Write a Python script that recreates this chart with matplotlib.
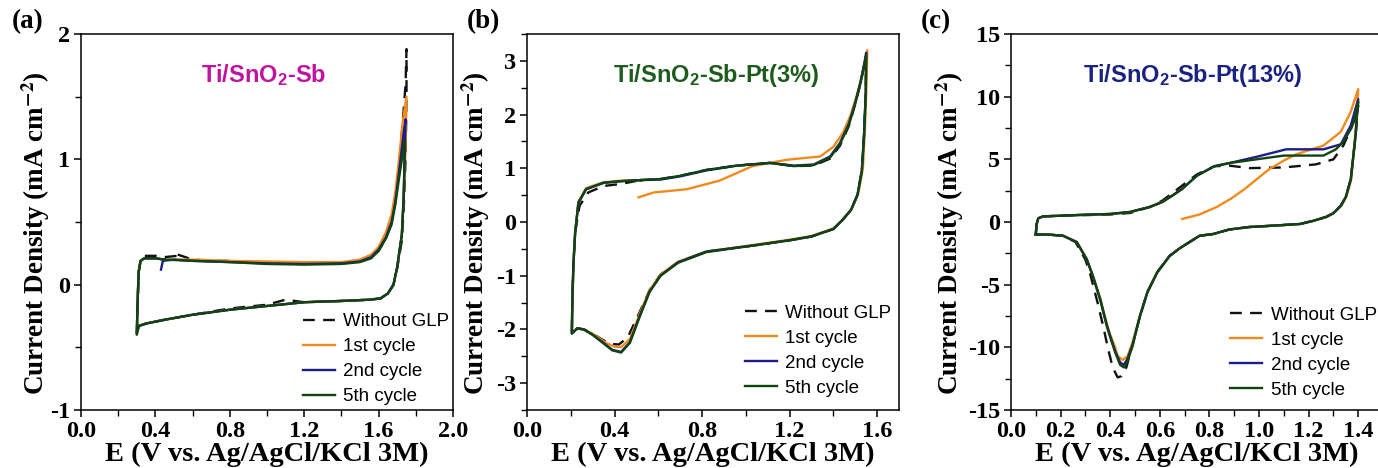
import matplotlib
matplotlib.use("Agg")
import matplotlib.pyplot as plt
from matplotlib.ticker import MultipleLocator, FuncFormatter

plt.rcParams['axes.unicode_minus'] = False
plt.rcParams['mathtext.fontset'] = 'custom'
plt.rcParams['mathtext.rm'] = 'Liberation Sans:bold'
plt.rcParams['mathtext.bf'] = 'Liberation Sans:bold'
plt.rcParams['mathtext.it'] = 'Liberation Sans:bold'

# ---------------- data ----------------
series_labels = ["Without GLP", "1st cycle", "2nd cycle", "5th cycle"]
series_colors = ["#111111", "#f08a1c", "#1c1c8a", "#114411"]

panel_titles = [r"Ti/SnO$_2$-Sb", r"Ti/SnO$_2$-Sb-Pt(3%)", r"Ti/SnO$_2$-Sb-Pt(13%)"]
title_colors = ["#c0149e", "#1e5c1e", "#1a2380"]
panel_tags = ["(a)", "(b)", "(c)"]

# Panel (a): Ti/SnO2-Sb
a_E_dash = [0.52, 0.6, 0.7, 0.8, 1.0, 1.1, 1.2, 1.4, 1.5, 1.56, 1.60, 1.64, 1.67, 1.69, 1.71, 1.73, 1.745, 1.75,
            1.75, 1.745, 1.735, 1.725, 1.70, 1.68, 1.65, 1.61, 1.55, 1.4, 1.2, 1.1, 1.0, 0.8, 0.6, 0.45, 0.35, 0.31, 0.30,
            0.305, 0.31, 0.32, 0.34, 0.40, 0.45, 0.52]
a_j_dash = [0.24, 0.2, 0.19, 0.19, 0.17, 0.175, 0.17, 0.17, 0.19, 0.22, 0.27, 0.37, 0.5, 0.68, 0.95, 1.3, 1.6, 1.88,
            1.5, 1.0, 0.6, 0.35, 0.13, 0.0, -0.07, -0.11, -0.12, -0.13, -0.14, -0.12, -0.16, -0.19, -0.24, -0.28, -0.31, -0.33, -0.41,
            -0.15, 0.1, 0.19, 0.23, 0.23, 0.22, 0.23]
a_E_1st = [0.45, 0.6, 0.8, 1.0, 1.2, 1.4, 1.5, 1.56, 1.60, 1.64, 1.67, 1.69, 1.71, 1.73, 1.75,
           1.745, 1.735, 1.725, 1.70, 1.68, 1.65, 1.61, 1.55, 1.4, 1.2, 1.0, 0.8, 0.6, 0.45, 0.35, 0.31, 0.30,
           0.305, 0.31, 0.32, 0.34, 0.40, 0.45]
a_j_1st = [0.2, 0.2, 0.19, 0.185, 0.18, 0.18, 0.2, 0.24, 0.30, 0.42, 0.56, 0.74, 1.0, 1.3, 1.5,
           1.1, 0.7, 0.4, 0.14, 0.0, -0.07, -0.11, -0.12, -0.13, -0.14, -0.17, -0.2, -0.24, -0.28, -0.31, -0.33, -0.38,
           -0.1, 0.1, 0.19, 0.21, 0.21, 0.2]
a_E_2nd = [0.43, 0.44, 0.5, 0.6, 0.8, 1.0, 1.2, 1.4, 1.5, 1.56, 1.60, 1.64, 1.67, 1.69, 1.71, 1.73, 1.745,
           1.74, 1.735, 1.725, 1.70, 1.68, 1.65, 1.61, 1.55, 1.4, 1.2, 1.0, 0.8, 0.6, 0.45, 0.35, 0.31, 0.30,
           0.305, 0.31, 0.32, 0.34, 0.40, 0.45]
a_j_2nd = [0.12, 0.19, 0.2, 0.19, 0.18, 0.17, 0.165, 0.17, 0.185, 0.22, 0.28, 0.38, 0.5, 0.66, 0.9, 1.15, 1.32,
           1.0, 0.7, 0.4, 0.14, 0.0, -0.07, -0.11, -0.12, -0.13, -0.14, -0.17, -0.2, -0.24, -0.28, -0.31, -0.33, -0.38,
           -0.1, 0.1, 0.19, 0.21, 0.21, 0.2]
a_E_5th = [0.45, 0.6, 0.8, 1.0, 1.2, 1.4, 1.5, 1.56, 1.60, 1.64, 1.67, 1.69, 1.71, 1.73, 1.74,
           1.738, 1.733, 1.725, 1.70, 1.68, 1.65, 1.61, 1.55, 1.4, 1.2, 1.0, 0.8, 0.6, 0.45, 0.35, 0.31, 0.30,
           0.305, 0.31, 0.32, 0.34, 0.40, 0.45]
a_j_5th = [0.2, 0.19, 0.18, 0.165, 0.16, 0.165, 0.18, 0.21, 0.27, 0.37, 0.48, 0.64, 0.85, 1.05, 1.15,
           0.9, 0.65, 0.4, 0.14, 0.0, -0.07, -0.11, -0.12, -0.13, -0.14, -0.17, -0.2, -0.24, -0.28, -0.31, -0.33, -0.4,
           -0.1, 0.1, 0.19, 0.21, 0.21, 0.2]

# Panel (b): Ti/SnO2-Sb-Pt(3%)
b_E_dash = [0.52, 0.61, 0.7, 0.82, 0.96, 1.11, 1.22, 1.31, 1.385, 1.43, 1.47, 1.50, 1.525, 1.54, 1.55,
            1.548, 1.54, 1.53, 1.51, 1.48, 1.44, 1.40, 1.3, 1.2, 1.03, 0.82, 0.69, 0.61, 0.56, 0.51, 0.46, 0.42, 0.38,
            0.34, 0.30, 0.26, 0.23, 0.205,
            0.207, 0.212, 0.22, 0.24, 0.28, 0.35, 0.43, 0.52]
b_j_dash = [0.78, 0.8, 0.86, 0.97, 1.05, 1.1, 1.04, 1.05, 1.18, 1.42, 1.78, 2.2, 2.6, 2.9, 3.1,
            2.4, 1.6, 0.95, 0.5, 0.22, 0.03, -0.13, -0.27, -0.34, -0.44, -0.55, -0.75, -0.98, -1.27, -1.72, -2.15, -2.28, -2.27,
            -2.18, -2.08, -2.0, -1.98, -2.07,
            -1.5, -0.8, -0.2, 0.3, 0.55, 0.67, 0.71, 0.78]
b_E_1st = [0.51, 0.58, 0.73, 0.88, 1.03, 1.19, 1.34, 1.40, 1.445, 1.48, 1.51, 1.535, 1.555,
           1.552, 1.545, 1.535, 1.515, 1.485, 1.445, 1.40, 1.3, 1.2, 1.03, 0.82, 0.69, 0.61, 0.56, 0.516, 0.47, 0.43,
           0.40, 0.36, 0.30, 0.26, 0.23, 0.205,
           0.207, 0.212, 0.22, 0.235, 0.27, 0.35, 0.43, 0.52]
b_j_1st = [0.46, 0.55, 0.61, 0.77, 1.04, 1.16, 1.22, 1.4, 1.67, 2.0, 2.4, 2.8, 3.2,
           2.6, 1.8, 1.0, 0.55, 0.25, 0.05, -0.12, -0.26, -0.33, -0.43, -0.55, -0.74, -0.98, -1.27, -1.7, -2.18, -2.33,
           -2.32, -2.25, -2.08, -2.0, -1.98, -2.07,
           -1.5, -0.8, -0.2, 0.38, 0.63, 0.74, 0.77, 0.78]
b_E_2nd = [0.52, 0.61, 0.7, 0.82, 0.96, 1.11, 1.22, 1.31, 1.385, 1.43, 1.47, 1.50, 1.525, 1.54, 1.55,
           1.548, 1.54, 1.53, 1.51, 1.48, 1.44, 1.40, 1.3, 1.2, 1.03, 0.82, 0.69, 0.61, 0.56, 0.516, 0.47, 0.43, 0.39,
           0.34, 0.30, 0.26, 0.23, 0.205,
           0.207, 0.212, 0.22, 0.235, 0.27, 0.35, 0.43, 0.52]
b_j_2nd = [0.78, 0.79, 0.85, 0.96, 1.05, 1.1, 1.05, 1.07, 1.22, 1.47, 1.82, 2.22, 2.62, 2.92, 3.15,
           2.4, 1.6, 0.95, 0.5, 0.22, 0.03, -0.13, -0.27, -0.34, -0.44, -0.55, -0.75, -1.0, -1.3, -1.74, -2.24, -2.42, -2.38,
           -2.22, -2.1, -2.0, -1.98, -2.08,
           -1.5, -0.8, -0.2, 0.36, 0.61, 0.73, 0.76, 0.78]
b_E_5th = [0.52, 0.61, 0.7, 0.82, 0.96, 1.11, 1.22, 1.31, 1.385, 1.43, 1.47, 1.50, 1.525, 1.54, 1.55,
           1.548, 1.54, 1.53, 1.51, 1.48, 1.44, 1.40, 1.3, 1.2, 1.03, 0.82, 0.69, 0.61, 0.56, 0.516, 0.47, 0.43, 0.39,
           0.34, 0.30, 0.26, 0.23, 0.205,
           0.207, 0.212, 0.22, 0.235, 0.27, 0.35, 0.43, 0.52]
b_j_5th = [0.78, 0.8, 0.86, 0.97, 1.05, 1.1, 1.04, 1.06, 1.2, 1.45, 1.8, 2.2, 2.6, 2.9, 3.1,
           2.4, 1.6, 0.95, 0.5, 0.22, 0.03, -0.13, -0.27, -0.34, -0.44, -0.56, -0.76, -1.0, -1.3, -1.75, -2.25, -2.43, -2.39,
           -2.23, -2.1, -2.0, -1.98, -2.07,
           -1.5, -0.8, -0.2, 0.36, 0.61, 0.73, 0.76, 0.78]

# Panel (c): Ti/SnO2-Sb-Pt(13%)
c_E_dash = [0.10, 0.103, 0.11, 0.13, 0.2, 0.3, 0.4, 0.48, 0.56, 0.61, 0.65, 0.69, 0.75, 0.82, 0.88, 0.96, 1.10, 1.23,
            1.30, 1.34, 1.37, 1.39, 1.40,
            1.395, 1.39, 1.37, 1.35, 1.33, 1.30, 1.27, 1.22, 1.165, 1.05, 0.96, 0.88, 0.815, 0.76, 0.72, 0.68, 0.64, 0.59,
            0.55, 0.52, 0.49, 0.465, 0.445, 0.43, 0.41, 0.39, 0.375, 0.35, 0.32, 0.30, 0.26, 0.21, 0.15, 0.10]
c_j_dash = [-1.0, -0.2, 0.3, 0.45, 0.5, 0.55, 0.6, 0.72, 1.2, 1.7, 2.3, 2.9, 3.8, 4.45, 4.5, 4.3, 4.35, 4.6,
            5.0, 6.1, 7.4, 8.4, 9.3,
            8.5, 7.0, 3.4, 2.0, 1.3, 0.7, 0.4, 0.1, -0.16, -0.3, -0.4, -0.6, -0.96, -1.1, -1.6, -2.1, -2.7, -4.0,
            -5.6, -7.5, -9.8, -11.6, -12.3, -12.4, -11.6, -10.0, -8.6, -6.5, -4.2, -3.0, -1.6, -1.1, -1.0, -1.0]
c_E_1st = [0.69, 0.76, 0.83, 0.89, 0.94, 0.99, 1.04, 1.10, 1.15, 1.26, 1.33, 1.37, 1.40,
           1.398, 1.39, 1.372, 1.352, 1.332, 1.30, 1.27, 1.22, 1.165, 1.05, 0.96, 0.88, 0.815, 0.76, 0.72, 0.68, 0.64, 0.59,
           0.55, 0.52, 0.49, 0.47, 0.45, 0.43, 0.42, 0.40, 0.386, 0.36, 0.33, 0.305, 0.265, 0.21, 0.15, 0.10,
           0.103, 0.11, 0.13, 0.2, 0.3, 0.4, 0.48, 0.56, 0.61, 0.65, 0.69]
c_j_1st = [0.24, 0.6, 1.2, 1.9, 2.6, 3.4, 4.2, 4.9, 5.4, 6.1, 7.2, 8.8, 10.6,
           9.5, 7.4, 3.4, 2.0, 1.3, 0.7, 0.4, 0.1, -0.16, -0.3, -0.4, -0.6, -0.96, -1.1, -1.6, -2.1, -2.7, -4.0,
           -5.6, -7.5, -9.6, -10.7, -11.0, -10.7, -10.0, -9.0, -8.1, -6.1, -4.3, -2.96, -1.6, -1.1, -1.0, -1.0,
           -0.2, 0.3, 0.45, 0.5, 0.58, 0.64, 0.8, 1.2, 1.6, 2.1, 2.64]
c_E_2nd = [0.10, 0.103, 0.11, 0.13, 0.2, 0.3, 0.4, 0.48, 0.56, 0.61, 0.65, 0.69, 0.75, 0.82, 0.88, 0.99, 1.11, 1.26,
           1.33, 1.37, 1.40,
           1.395, 1.39, 1.37, 1.35, 1.33, 1.30, 1.27, 1.22, 1.165, 1.05, 0.96, 0.88, 0.815, 0.76, 0.72, 0.68, 0.64, 0.59,
           0.55, 0.52, 0.49, 0.47, 0.455, 0.44, 0.42, 0.40, 0.386, 0.36, 0.33, 0.305, 0.265, 0.21, 0.15, 0.10]
c_j_2nd = [-1.0, -0.2, 0.3, 0.45, 0.5, 0.58, 0.64, 0.8, 1.2, 1.6, 2.1, 2.64, 3.7, 4.45, 4.7, 5.2, 5.8, 5.8,
           6.2, 7.7, 9.8,
           8.5, 7.0, 3.4, 2.0, 1.3, 0.7, 0.4, 0.1, -0.16, -0.3, -0.4, -0.6, -0.96, -1.1, -1.6, -2.1, -2.7, -4.0,
           -5.6, -7.5, -9.8, -10.9, -11.4, -11.2, -10.3, -9.1, -8.2, -6.2, -4.3, -2.96, -1.6, -1.1, -1.0, -1.0]
c_E_5th = [0.10, 0.103, 0.11, 0.13, 0.2, 0.3, 0.4, 0.48, 0.56, 0.61, 0.65, 0.69, 0.75, 0.82, 0.88, 0.99, 1.10, 1.18,
           1.26, 1.31, 1.34, 1.37, 1.39, 1.40,
           1.395, 1.39, 1.37, 1.35, 1.33, 1.30, 1.27, 1.22, 1.165, 1.05, 0.96, 0.88, 0.815, 0.76, 0.72, 0.68, 0.64, 0.59,
           0.55, 0.52, 0.49, 0.47, 0.455, 0.44, 0.42, 0.40, 0.386, 0.36, 0.33, 0.305, 0.265, 0.21, 0.15, 0.10]
c_j_5th = [-1.0, -0.2, 0.3, 0.45, 0.5, 0.58, 0.64, 0.8, 1.2, 1.6, 2.1, 2.64, 3.7, 4.45, 4.7, 5.0, 5.3, 5.3,
           5.3, 5.8, 6.4, 7.4, 8.5, 9.6,
           8.5, 7.0, 3.4, 2.0, 1.3, 0.7, 0.4, 0.1, -0.16, -0.3, -0.4, -0.6, -0.96, -1.1, -1.6, -2.1, -2.7, -4.0,
           -5.6, -7.5, -9.9, -11.1, -11.6, -11.4, -10.4, -9.2, -8.3, -6.2, -4.3, -2.96, -1.6, -1.1, -1.0, -1.0]

# axis settings per panel
xlims = [(0.0, 2.0), (0.0, 1.7), (0.0, 1.5)]
ylims = [(-1, 2), (-3.5, 3.5), (-15, 15)]
x_major = [0.4, 0.4, 0.2]
x_minor = [0.2, 0.2, 0.1]
y_major = [1, 1, 5]
y_minor = [0.5, 0.5, 2.5]

panels = [
    [(a_E_dash, a_j_dash), (a_E_1st, a_j_1st), (a_E_2nd, a_j_2nd), (a_E_5th, a_j_5th)],
    [(b_E_dash, b_j_dash), (b_E_1st, b_j_1st), (b_E_2nd, b_j_2nd), (b_E_5th, b_j_5th)],
    [(c_E_dash, c_j_dash), (c_E_1st, c_j_1st), (c_E_2nd, c_j_2nd), (c_E_5th, c_j_5th)],
]

# ---------------- layout ----------------
W, H = 1378, 468
fig = plt.figure(figsize=(W / 100, H / 100), dpi=100)
lefts_px = [81, 527, 1011]
ax_w_px, ax_b_px, ax_h_px = 372, 58, 376
ylabel_x = [-0.078, -0.095, -0.12]
leg_anchor = [(0.597, 0.012), (0.586, 0.035), (0.59, 0.03)]
tag_x_px = [12, 467, 921]

serif = "Liberation Serif"
sans = "Liberation Sans"

for i in range(3):
    ax = fig.add_axes([lefts_px[i] / W, ax_b_px / H, ax_w_px / W, ax_h_px / H])
    for k in range(4):
        E, j = panels[i][k]
        if k == 0:
            ax.plot(E, j, color=series_colors[k], lw=1.7, dashes=(5, 3.5), label=series_labels[k], zorder=2)
        else:
            ax.plot(E, j, color=series_colors[k], lw=1.7, label=series_labels[k], zorder=2 + k * 0.1)
    ax.set_xlim(*xlims[i])
    ax.set_ylim(*ylims[i])
    ax.xaxis.set_major_locator(MultipleLocator(x_major[i]))
    ax.xaxis.set_minor_locator(MultipleLocator(x_minor[i]))
    ax.yaxis.set_major_locator(MultipleLocator(y_major[i]))
    ax.yaxis.set_minor_locator(MultipleLocator(y_minor[i]))
    if i == 2:
        ax.set_xticks([0.0, 0.2, 0.4, 0.6, 0.8, 1.0, 1.2, 1.4])
    ax.tick_params(which='major', direction='out', length=5, width=1.1, pad=3,
                   top=False, right=False, labelsize=17.5)
    ax.tick_params(which='minor', direction='out', length=4, width=1.0, top=False, right=False)
    ax.xaxis.set_major_formatter(FuncFormatter(lambda v, p: "{:.1f}".format(v)))
    ax.yaxis.set_major_formatter(FuncFormatter(lambda v, p: "{:d}".format(int(round(v)))))
    for lab in ax.get_xticklabels() + ax.get_yticklabels():
        lab.set_fontfamily(serif)
        lab.set_fontweight('bold')
    for sp in ax.spines.values():
        sp.set_linewidth(1.1)
    ax.set_xlabel("E (V vs. Ag/AgCl/KCl 3M)", fontfamily=serif, fontweight='bold', fontsize=20.5, labelpad=0)
    yl = ax.set_ylabel(r"Current Density (mA cm$^{\mathbf{-2}}$)", fontfamily=serif, fontweight='bold', fontsize=19.5)
    yl.set_math_fontfamily('stix')
    ax.yaxis.set_label_coords(ylabel_x[i], 0.47)
    ax.text(0.49 if i != 1 else 0.51, 0.89, panel_titles[i], transform=ax.transAxes, ha='center', va='center',
            fontfamily=sans, fontweight='bold', fontsize=17, color=title_colors[i])
    ax.legend(loc='lower left', bbox_to_anchor=leg_anchor[i], frameon=False,
              prop={'family': sans, 'size': 13.5}, handlelength=1.7, handletextpad=0.45,
              labelspacing=0.42, borderpad=0.0, borderaxespad=0.0)
    fig.text(tag_x_px[i] / W, 1 - 34 / H, panel_tags[i], fontfamily=serif, fontweight='bold', fontsize=19.5,
             ha='left', va='bottom')

fig.savefig("out.png", dpi=100)
